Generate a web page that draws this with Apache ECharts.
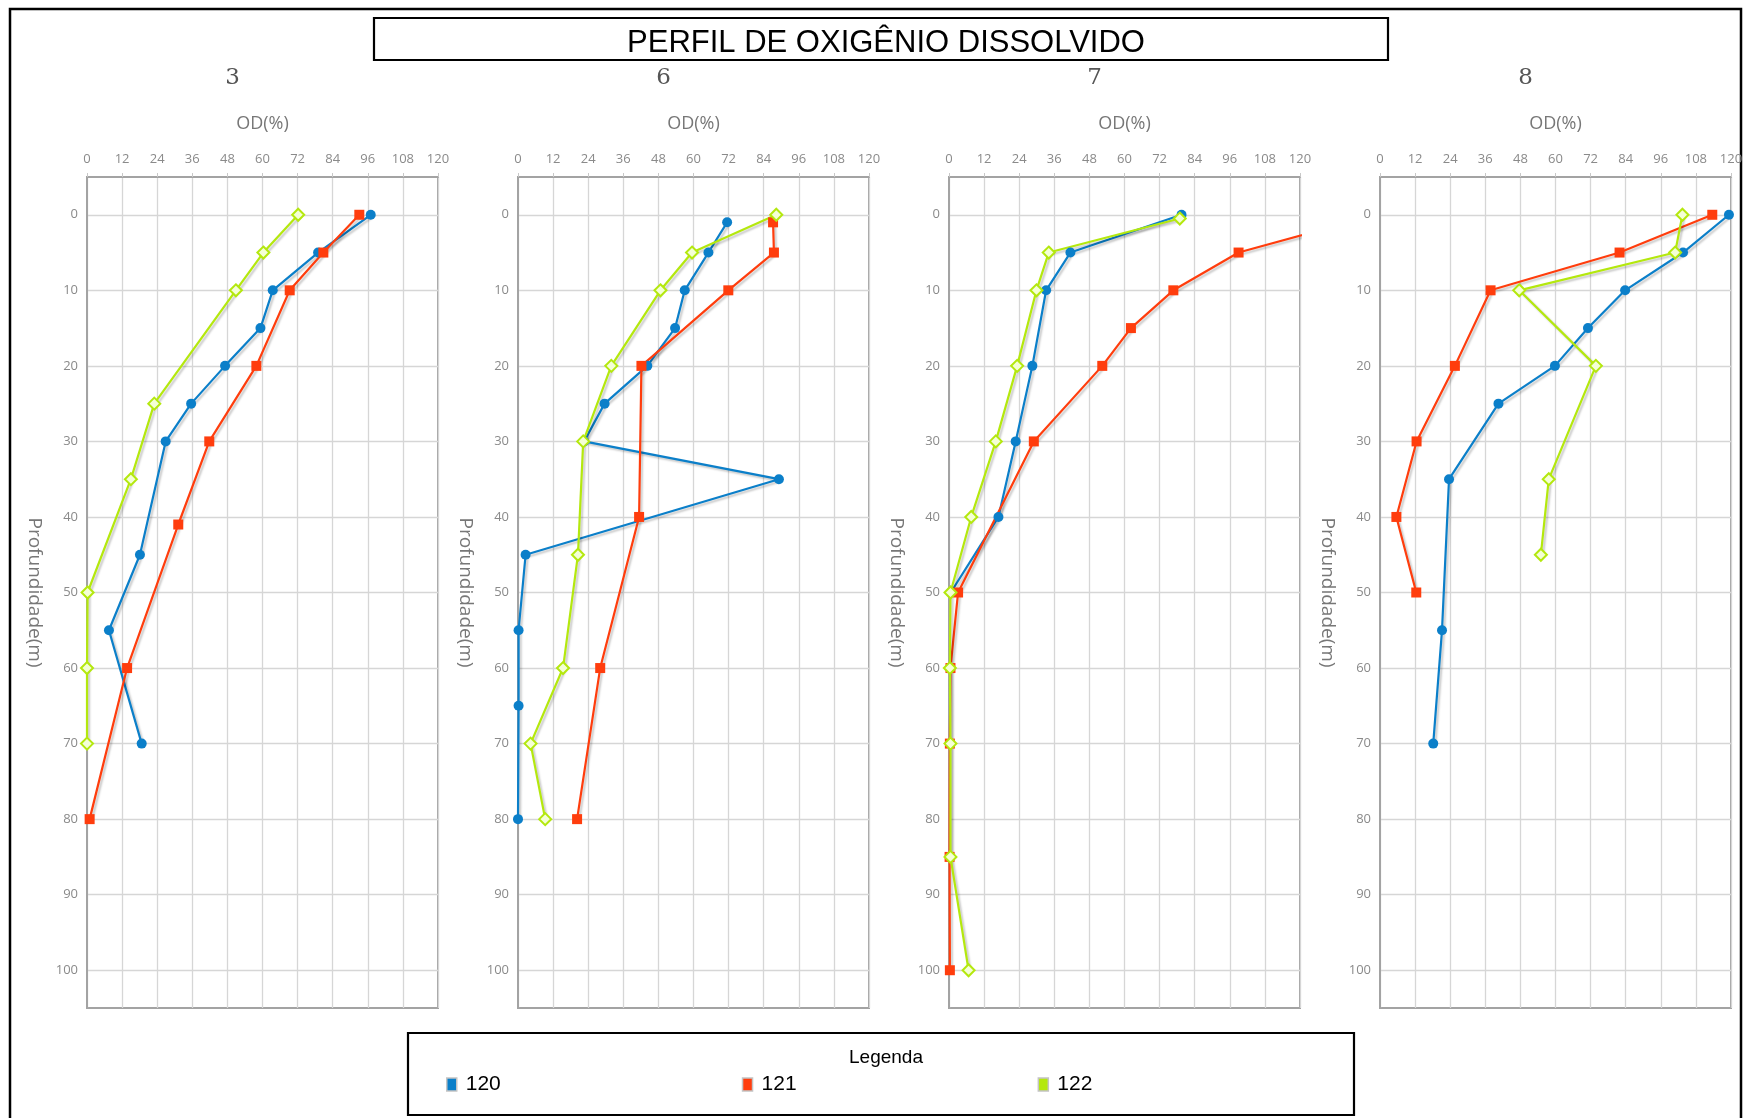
<!DOCTYPE html>
<html><head><meta charset="utf-8">
<script src="https://cdn.jsdelivr.net/npm/echarts@6/dist/echarts.min.js"></script>
<style>html,body{margin:0;padding:0;background:#fff}#c{width:1746px;height:1118px}</style>
</head><body><div id="c"></div>
<script>
// ---- data ----
const stations = ['3', '6', '7', '8'];
const seriesNames = ['120', '121', '122'];
const odTicks = [0, 12, 24, 36, 48, 60, 72, 84, 96, 108, 120];
const depthTicks = [0, 10, 20, 30, 40, 50, 60, 70, 80, 90, 100];

// station 3
const depth3_120 = [0, 5, 10, 15, 20, 25, 30, 45, 55, 70];
const od3_120    = [97, 79, 63.5, 59.3, 47.2, 35.6, 26.9, 18.1, 7.5, 18.7];
const depth3_121 = [0, 5, 10, 20, 30, 41, 60, 80];
const od3_121    = [93.1, 80.8, 69.3, 57.9, 41.8, 31.2, 13.7, 0.9];
const depth3_122 = [0, 5, 10, 25, 35, 50, 60, 70];
const od3_122    = [72.2, 60.3, 50.9, 23, 15, 0.2, 0, 0];

// station 6
const depth6_120 = [1, 5, 10, 15, 20, 25, 30, 35, 45, 55, 65, 80];
const od6_120    = [71.5, 65.1, 57, 53.7, 44.2, 29.6, 22.6, 89.2, 2.6, 0.2, 0.2, 0];
const depth6_121 = [1, 5, 10, 20, 40, 60, 80];
const od6_121    = [87.2, 87.5, 71.9, 42.2, 41.4, 28.1, 20.2];
const depth6_122 = [0, 5, 10, 20, 30, 45, 60, 70, 80];
const od6_122    = [88.3, 59.5, 48.7, 31.9, 22.3, 20.5, 15.4, 4.3, 9.3];

// station 7
const depth7_120 = [0, 5, 10, 20, 30, 40, 50];
const od7_120    = [79.5, 41.5, 33.2, 28.5, 22.8, 16.9, 0.6];
const depth7_121 = [0, 5, 10, 15, 20, 30, 50, 60, 70, 85, 100];
const od7_121    = [146, 99, 76.7, 62.2, 52.4, 29, 3.1, 0.5, 0.3, 0.2, 0.3];
const depth7_122 = [0.5, 5, 10, 20, 30, 40, 50, 60, 70, 85, 100];
const od7_122    = [78.9, 34.1, 29.9, 23.3, 16, 7.6, 0.5, 0.3, 0.5, 0.5, 6.7];

// station 8
const depth8_120 = [0, 5, 10, 15, 20, 25, 35, 55, 70];
const od8_120    = [119.3, 103.6, 83.8, 71.1, 59.8, 40.5, 23.6, 21.2, 18.2];
const depth8_121 = [0, 5, 10, 20, 30, 40, 50];
const od8_121    = [113.6, 81.9, 37.8, 25.6, 12.5, 5.6, 12.4];
const depth8_122 = [0, 5, 10, 20, 35, 45];
const od8_122    = [103.4, 100.9, 47.6, 73.8, 57.7, 55];

const profiles = [
  [[od3_120, depth3_120], [od3_121, depth3_121], [od3_122, depth3_122]],
  [[od6_120, depth6_120], [od6_121, depth6_121], [od6_122, depth6_122]],
  [[od7_120, depth7_120], [od7_121, depth7_121], [od7_122, depth7_122]],
  [[od8_120, depth8_120], [od8_121, depth8_121], [od8_122, depth8_122]]
];

// ---- styles / layout ----
const colors = ['#0B7FC9', '#FF3D0D', '#B4E80E'];
const symbols = ['circle', 'rect', 'diamond'];
const symbolSizes = [10, 10, 12];
const gridLefts = [87, 518, 949, 1380];
const gridTop = 177, gridW = 351, gridH = 831;
const tickFont = '"Open Sans", "Noto Sans", sans-serif';

const chart = echarts.init(document.getElementById('c'));

const grids = [], xAxes = [], yAxes = [], series = [], titles = [];
titles.push({
  text: 'PERFIL DE OXIGÊNIO DISSOLVIDO',
  left: 881, top: 23, textAlign: 'center',
  textStyle: { fontFamily: '"Liberation Sans", Arial, sans-serif', fontSize: 31, fontWeight: 'normal', color: '#000' }
});
titles.push({
  text: 'Legenda', left: 881, top: 1043, textAlign: 'center',
  textStyle: { fontFamily: '"Liberation Sans", Arial, sans-serif', fontSize: 19, fontWeight: 'normal', color: '#000' }
});

stations.forEach((st, i) => {
  grids.push({ left: gridLefts[i], top: gridTop, width: gridW, height: gridH, show: true,
    borderColor: '#a3a3a3', borderWidth: 2, backgroundColor: '#fff' });
  titles.push({
    text: st, left: gridLefts[i] + gridW / 2 - 35, top: 62, textAlign: 'center',
    textStyle: { fontFamily: '"DejaVu Serif", serif', fontSize: 23, fontWeight: 'normal', color: '#555' }
  });
  xAxes.push({
    gridIndex: i, type: 'value', position: 'top', min: odTicks[0], max: odTicks[odTicks.length - 1],
    interval: odTicks[1] - odTicks[0],
    name: 'OD(%)', nameLocation: 'middle', nameGap: 44,
    nameTextStyle: { fontFamily: tickFont, fontSize: 18, color: '#777' },
    axisLine: { show: true, onZero: false, lineStyle: { color: '#a3a3a3', width: 2 } },
    axisTick: { show: true, length: 4, lineStyle: { color: '#c8c8c8' } },
    axisLabel: { fontFamily: tickFont, fontSize: 13, color: '#8a8a8a', margin: 11 },
    splitLine: { show: true, lineStyle: { color: '#d6d6d6', width: 1.3 } }
  });
  yAxes.push({
    gridIndex: i, type: 'value', inverse: true, min: -5, max: 105,
    name: 'Profundidade(m)', nameLocation: 'middle', nameGap: 43, nameRotate: -90,
    nameTextStyle: { fontFamily: tickFont, fontSize: 19, color: '#777' },
    axisLine: { show: true, onZero: false, lineStyle: { color: '#a3a3a3', width: 2 } },
    axisTick: { show: false, customValues: depthTicks },
    axisLabel: { fontFamily: tickFont, fontSize: 13, color: '#8a8a8a', margin: 9, customValues: depthTicks },
    splitLine: { show: true, lineStyle: { color: '#d6d6d6', width: 1.3 } }
  });
  profiles[i].forEach((p, k) => {
    const od = p[0], dep = p[1];
    series.push({
      name: seriesNames[k], type: 'line', xAxisIndex: i, yAxisIndex: i,
      data: od.map((v, j) => [v, dep[j]]),
      symbol: symbols[k], symbolSize: symbolSizes[k], clip: true,
      lineStyle: { color: colors[k], width: 2.2, shadowColor: 'rgba(0,0,0,0.22)', shadowBlur: 2, shadowOffsetX: 2, shadowOffsetY: 2 },
      itemStyle: k === 2 ? { color: '#f4ffd6', borderColor: colors[k], borderWidth: 2 } : { color: colors[k], borderWidth: 0 },
      emphasis: { disabled: true }, animation: false
    });
  });
});

chart.setOption({
  animation: false,
  title: titles,
  grid: grids, xAxis: xAxes, yAxis: yAxes, series: series,
  legend: {
    left: 441, top: 1069, orient: 'horizontal', icon: 'rect', itemWidth: 10, itemHeight: 13, itemGap: 241,
    data: seriesNames.map((n, k) => ({ name: n, itemStyle: { color: colors[k], borderColor: '#c4c4c4', borderWidth: 1.5 } })),
    textStyle: { fontFamily: '"Liberation Sans", Arial, sans-serif', fontSize: 21, color: '#000', padding: [0, 0, 0, 4] }
  },
  graphic: [
    { type: 'rect', shape: { x: 10, y: 9, width: 1731, height: 1130 }, style: { fill: null, stroke: '#000', lineWidth: 2.5 }, silent: true, z: -10 },
    { type: 'rect', shape: { x: 374, y: 18, width: 1014, height: 42 }, style: { fill: null, stroke: '#000', lineWidth: 2.2 }, silent: true },
    { type: 'rect', shape: { x: 408, y: 1033, width: 946, height: 82 }, style: { fill: null, stroke: '#000', lineWidth: 2.2 }, silent: true }
  ]
});
</script></body></html>
